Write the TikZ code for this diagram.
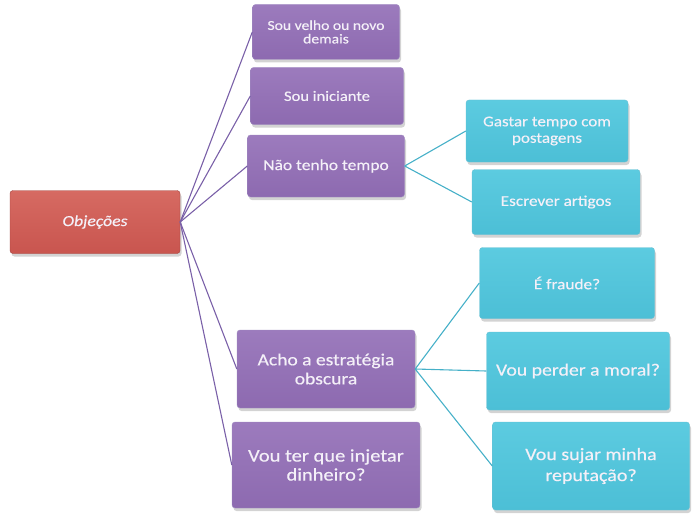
\documentclass[tikz,border=0pt]{standalone}
\usepackage{fontspec}
\setmainfont{Carlito}
\newfontfamily\wide[FakeStretch=1.15,FakeBold=0.4]{Carlito}
\usetikzlibrary{shadows}
\definecolor{pur}{HTML}{8D6AB0}
\definecolor{purtop}{HTML}{9C7BBD}
\definecolor{purline}{HTML}{7A60A8}
\definecolor{teal}{HTML}{4CBFD6}
\definecolor{tealtop}{HTML}{5CCBE0}
\definecolor{tealline}{HTML}{45B0C8}
\definecolor{redb}{HTML}{C9554F}
\definecolor{redtop}{HTML}{D66A62}
\definecolor{txt}{HTML}{F4F0F8}
\newcommand\fsz[2]{\wide\fontsize{#1}{#2}\selectfont}
\tikzset{
  box/.style={rounded corners=3pt, align=center, text=txt, inner sep=2pt,
    drop shadow={opacity=0.35, shadow xshift=1.5pt, shadow yshift=-3pt}},
  pbox/.style={box, top color=purtop, bottom color=pur, draw=purline!70, line width=0.4pt},
  tbox/.style={box, top color=tealtop, bottom color=teal, draw=tealline!80, line width=0.4pt},
  rbox/.style={box, top color=redtop, bottom color=redb, draw=redb!80!black, line width=0.4pt},
  pline/.style={draw=purline, line width=1.1pt},
  tline/.style={draw=tealline, line width=1.1pt}
}
\begin{document}
\begin{tikzpicture}[x=1pt,y=-1pt]
\useasboundingbox (0,0) rectangle (700,524);
% nodes
\node[rbox, minimum width=170, minimum height=63, font=\fsz{15.4}{17}\itshape] (obj) at (95,222) {Objeções};
\node[pbox, minimum width=147, minimum height=55, font=\fsz{13.6}{13.5}] (p1) at (326,32) {Sou velho ou novo\\demais};
\node[pbox, minimum width=153, minimum height=57, font=\fsz{14.4}{15}] (p2) at (327,96) {Sou iniciante};
\node[pbox, minimum width=157, minimum height=62, font=\fsz{15.2}{16}] (p3) at (326,166) {Não tenho tempo};
\node[pbox, minimum width=178, minimum height=78, font=\fsz{17}{19}] (p4) at (326,369) {Acho a estratégia\\obscura};
\node[pbox, minimum width=188, minimum height=86, font=\fsz{17.8}{19}] (p5) at (326,465) {Vou ter que injetar\\dinheiro?};
\node[tbox, minimum width=162, minimum height=62, font=\fsz{14.8}{16.5}] (t1) at (547,131) {Gastar tempo com\\postagens};
\node[tbox, minimum width=168, minimum height=65, font=\fsz{15}{16}] (t2) at (556,202) {Escrever artigos};
\node[tbox, minimum width=175, minimum height=71, font=\fsz{15}{16}] (t3) at (567,283) {É fraude?};
\node[tbox, minimum width=183, minimum height=78, font=\fsz{17.2}{19}] (t4) at (578,371) {Vou perder a moral?};
\node[tbox, minimum width=197, minimum height=88, font=\fsz{17.4}{21}] (t5) at (591,466) {Vou sujar minha\\reputação?};
% connectors
\foreach \n in {p1,p2,p3,p4,p5} \draw[pline] (obj.east) -- (\n.west);
\draw[tline] (p3.east) -- (t1.west);
\draw[tline] (p3.east) -- (t2.west);
\draw[tline] (p4.east) -- (t3.west);
\draw[tline] (p4.east) -- (t4.west);
\draw[tline] (p4.east) -- (t5.west);
\end{tikzpicture}
\end{document}
